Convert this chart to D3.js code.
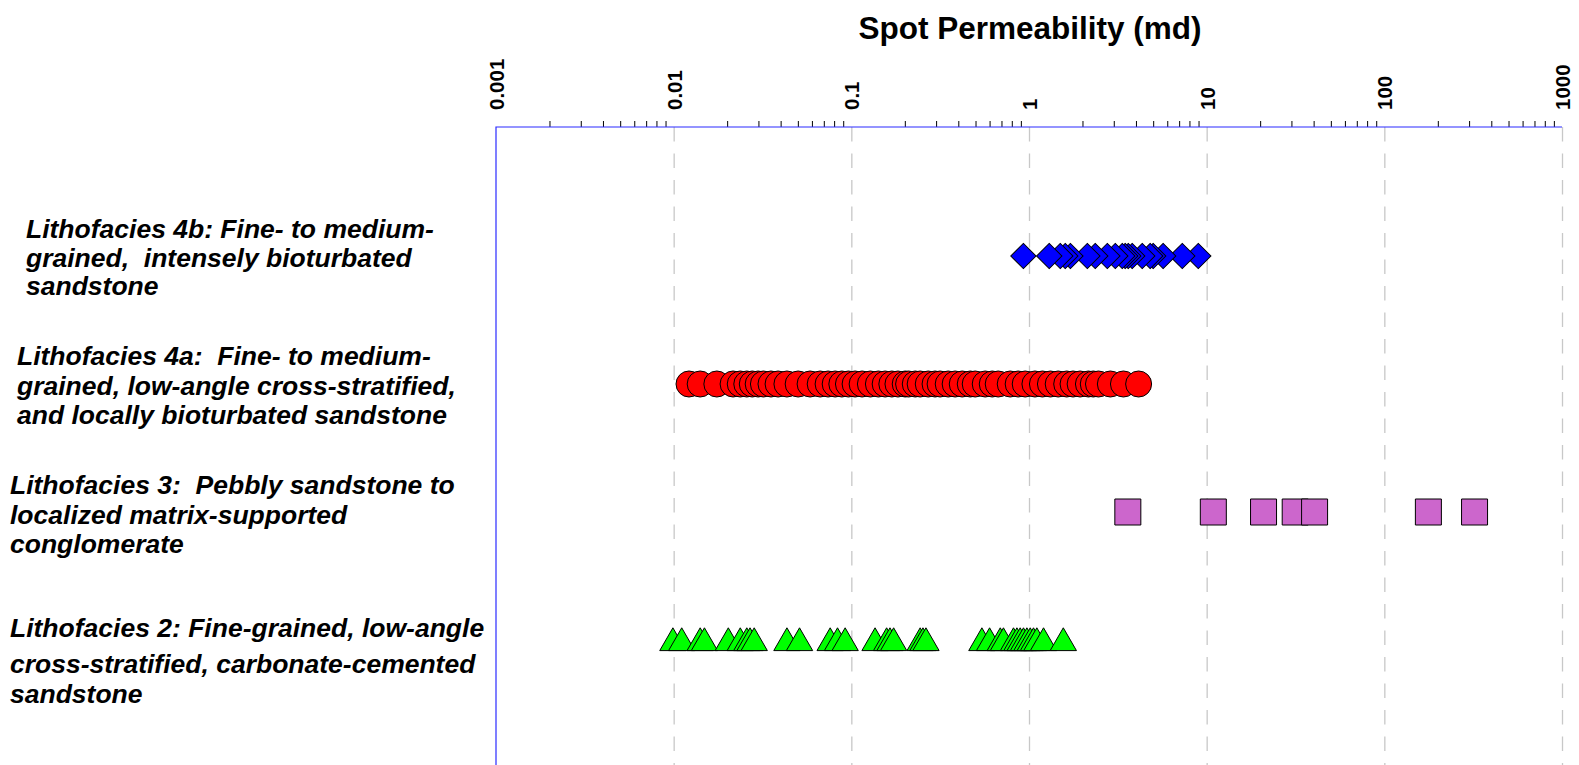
<!DOCTYPE html>
<html>
<head>
<meta charset="utf-8">
<script src="https://cdn.jsdelivr.net/npm/d3@7"></script>
<style>
  body { margin: 0; background: #fff; }
  svg { display: block; font-family: "Liberation Sans", Arial, sans-serif; }
  .title { font-size: 31.5px; font-weight: bold; }
  .tickLabel { font-size: 20.5px; font-weight: bold; }
  .facies { font-size: 26.5px; font-weight: bold; font-style: italic; }
  .grid line { stroke: #c8c8c8; stroke-width: 1.3; stroke-dasharray: 14.5, 12; }
  .minor line { stroke: #000; stroke-width: 1; }
  .frame { stroke: #2a2aff; stroke-width: 1.2; fill: none; }
</style>
</head>
<body>
<script>
// spot permeability per lithofacies (md)
var categories = ["4b", "4a", "3", "2"]

var lf4b = [0.93, 1.30, 1.50, 1.60, 1.71, 2.13, 2.36, 2.76, 3.06, 3.35, 3.48, 3.62, 3.81,
            4.34, 4.81, 5.0, 5.69, 7.29, 8.97]

var lf4a = [0.0122, 0.0141, 0.0175, 0.0216, 0.0237, 0.0258, 0.0277, 0.0299, 0.032, 0.0353,
            0.0387, 0.0434, 0.0502, 0.0586, 0.0668, 0.074, 0.0811, 0.0884, 0.0963, 0.105,
            0.115, 0.128, 0.142, 0.155, 0.169, 0.183, 0.201, 0.21, 0.229, 0.244, 0.271,
            0.296, 0.316, 0.351, 0.384, 0.421, 0.467, 0.498, 0.567, 0.621, 0.671, 0.784,
            0.869, 0.952, 1.08, 1.19, 1.32, 1.46, 1.63, 1.77, 1.94, 2.16, 2.30, 2.46,
            2.87, 3.40, 4.14]

var lf3 = [3.60, 10.9, 20.9, 31.5, 40.5, 177, 322]

var lf2 = [0.0099, 0.0111, 0.0141, 0.0149, 0.0203, 0.0237, 0.0258, 0.0269, 0.0284, 0.0434,
           0.0511, 0.076, 0.0836, 0.0923, 0.136, 0.158, 0.165, 0.173, 0.244, 0.253, 0.263,
           0.543, 0.60, 0.689, 0.718, 0.818, 0.855, 0.892, 0.931, 0.973, 1.016, 1.06,
           1.107, 1.207, 1.56]

var decades = [0.001, 0.01, 0.1, 1, 10, 100, 1000]
var decadeLabels = ["0.001", "0.01", "0.1", "1", "10", "100", "1000"]

var faciesText = [
  ["Lithofacies 4b: Fine- to medium-", "grained,  intensely bioturbated", "sandstone"],
  ["Lithofacies 4a:  Fine- to medium-", "grained, low-angle cross-stratified,", "and locally bioturbated sandstone"],
  ["Lithofacies 3:  Pebbly sandstone to", "localized matrix-supported", "conglomerate"],
  ["Lithofacies 2: Fine-grained, low-angle", "cross-stratified, carbonate-cemented", "sandstone"]
]

// where each label block sits (x, and line baselines relative to its row)
var labelX = [26, 17, 10, 10]
var labelDy = [[-18, 11, 39], [-19, 11, 40], [-18, 12, 41], [-3, 33, 63]]

var W = 1579, H = 765
var plotLeft = 496, plotRight = 1562, plotTop = 127

var svg = d3.select("body").append("svg")
    .attr("width", W)
    .attr("height", H)

var xScale = d3.scaleLog().domain([0.001, 1000]).range([plotLeft, plotRight])
var yScale = d3.scalePoint().domain(categories).range([plotTop + 1, H + 3]).padding(1)

// dashed grid at each decade
svg.append("g")
    .attr("class", "grid")
    .attr("transform", "translate(0," + plotTop + ")")
    .call(d3.axisBottom(xScale).tickValues(decades.slice(1)).tickSize(H - plotTop).tickFormat(""))
    .call(function(g) { g.select(".domain").remove() })

// minor ticks 2..9 in each decade
var minor = []
decades.slice(0, -1).forEach(function(d) {
  for (var k = 2; k <= 9; k++) minor.push(d * k)
})
svg.append("g")
    .attr("class", "minor")
    .attr("transform", "translate(0," + plotTop + ")")
    .call(d3.axisTop(xScale).tickValues(minor).tickSize(6).tickFormat(""))
    .call(function(g) { g.select(".domain").remove() })

// decade labels, turned on their side
var major = svg.append("g")
    .attr("transform", "translate(0," + plotTop + ")")
    .call(d3.axisTop(xScale).tickValues(decades).tickSize(0)
      .tickFormat(function(d, i) { return decadeLabels[i] }))
major.select(".domain").remove()
major.attr("font-family", null).attr("font-size", null)
major.selectAll("text")
    .attr("class", "tickLabel")
    .attr("fill", "#000")
    .attr("transform", "rotate(-90)")
    .attr("text-anchor", "start")
    .attr("x", 17)
    .attr("y", 0)
    .attr("dy", "0.36em")

// blue frame: top and left
svg.append("path")
    .attr("class", "frame")
    .attr("d", "M" + plotRight + "," + plotTop + "H" + plotLeft + "V" + H)

svg.append("text")
    .attr("class", "title")
    .attr("x", 1030)
    .attr("y", 39)
    .attr("text-anchor", "middle")
    .text("Spot Permeability (md)")

// lithofacies labels
faciesText.forEach(function(lines, i) {
  var t = svg.append("text")
      .attr("class", "facies")
  lines.forEach(function(s, j) {
    t.append("tspan")
        .attr("x", labelX[i])
        .attr("y", yScale(categories[i]) + labelDy[i][j])
        .style("white-space", "pre")
        .text(s)
  })
})

// markers
var series = [
  {cat: "4b", data: lf4b.slice().reverse(), fill: "#0000ff", sym: d3.symbolSquare, size: 320, rot: 45, dy: 0},
  {cat: "4a", data: lf4a, fill: "#ff0000", sym: d3.symbolCircle, size: 531, rot: 0, dy: 0},
  {cat: "3", data: lf3, fill: "#cc66cc", sym: d3.symbolSquare, size: 676, rot: 0, dy: 0},
  {cat: "2", data: lf2, fill: "#00ff00", sym: d3.symbolTriangle, size: 300, rot: 0, dy: 3}
]

series.forEach(function(s) {
  svg.append("g").selectAll("path")
      .data(s.data)
    .enter().append("path")
      .attr("d", d3.symbol().type(s.sym).size(s.size))
      .attr("transform", function(d) {
        return "translate(" + xScale(d) + "," + (yScale(s.cat) + s.dy) + ") rotate(" + s.rot + ")"
      })
      .attr("fill", s.fill)
      .attr("stroke", "#000")
      .attr("stroke-width", 1)
})
</script>
</body>
</html>
